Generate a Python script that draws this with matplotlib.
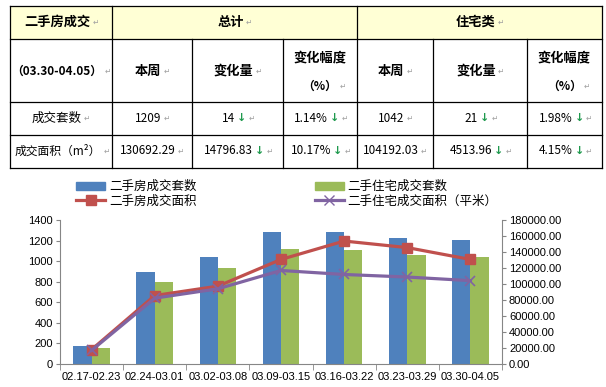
import matplotlib
matplotlib.use("Agg")
import matplotlib.pyplot as plt
from matplotlib.patches import Rectangle, Patch
from matplotlib.lines import Line2D
import numpy as np

plt.rcParams['font.family'] = ['Noto Sans CJK SC', 'DejaVu Sans']

# chart data
weeks = ['02.17-02.23', '02.24-03.01', '03.02-03.08', '03.09-03.15',
         '03.16-03.22', '03.23-03.29', '03.30-04.05']
total_units = [179, 890, 1036, 1280, 1280, 1223, 1209]
res_units = [159, 802, 929, 1114, 1104, 1063, 1042]
total_area = [18000, 85600, 97300, 130700, 153700, 145489.12, 130692.29]
res_area = [17000, 82300, 94000, 116900, 111900, 108705.99, 104192.03]

series_names = ['二手房成交套数', '二手房成交面积', '二手住宅成交套数', '二手住宅成交面积（平米）']

# table data
row_labels = ['成交套数', '成交面积（m²）']
this_week = [['1209', '1042'], ['130692.29', '104192.03']]
change = [['14', '21'], ['14796.83', '4513.96']]
change_pct = [['1.14%', '1.98%'], ['10.17%', '4.15%']]

BLUE = '#4F81BD'
RED = '#C0504D'
GREEN = '#9BBB59'
PURPLE = '#8064A2'
AXIS = '#868686'
MARK = '#a0a0a0'
ARROW = '#1f9a4e'

W, H = 606, 387
fig = plt.figure(figsize=(W / 100, H / 100), dpi=100)

# ---------- table ----------
tab = fig.add_axes([0, 0, 1, 1])
tab.set_xlim(0, W)
tab.set_ylim(H, 0)
tab.axis('off')

cols = [10, 112, 192, 283, 357, 433, 527, 602]
rows = [6, 39, 102, 135, 168]

tab.add_patch(Rectangle((cols[0], rows[0]), cols[-1] - cols[0], rows[1] - rows[0],
                        facecolor='#FFFFD5', edgecolor='none'))
for y in rows:
    tab.plot([cols[0], cols[-1]], [y, y], color='black', lw=0.9)
for x in [cols[0], cols[1], cols[4], cols[7]]:
    tab.plot([x, x], [rows[0], rows[-1]], color='black', lw=0.9)
for x in [cols[2], cols[3], cols[5], cols[6]]:
    tab.plot([x, x], [rows[1], rows[-1]], color='black', lw=0.9)


def cell(x, y, s, bold=False, arrow=False, mark=True, size=9):
    shift = (5 if arrow else 0) + (4 if mark else 0)
    t = tab.text(x - shift, y, s, ha='center', va='center', fontsize=size,
                 fontweight='bold' if bold else 'normal', color='black')
    last = t
    if arrow:
        last = tab.annotate('↓', xy=(1, 0.5), xycoords=last, xytext=(1.5, 0),
                            textcoords='offset points', ha='left', va='center',
                            fontsize=8, fontweight='bold', color=ARROW,
                            family=['DejaVu Sans'])
    if mark:
        tab.annotate('↵', xy=(1, 0.5), xycoords=last, xytext=(1.5, 0),
                     textcoords='offset points', ha='left', va='center',
                     fontsize=5.5, color=MARK, family=['DejaVu Sans'])
    return t


def mid(a, b):
    return (cols[a] + cols[b]) / 2


cell(mid(0, 1), 22, '二手房成交', bold=True, size=9.5)
cell(mid(1, 4), 22, '总计', bold=True, size=9.5)
cell(mid(4, 7), 22, '住宅类', bold=True, size=9.5)
cell(mid(0, 1), 71, '（03.30-04.05）', bold=True, size=8.5)
for g in (0, 3):
    cell(mid(1 + g, 2 + g), 71, '本周', bold=True, size=9.5)
    cell(mid(2 + g, 3 + g), 71, '变化量', bold=True, size=9.5)
    cell(mid(3 + g, 4 + g), 57, '变化幅度', bold=True, size=9.5, mark=False)
    cell(mid(3 + g, 4 + g) + 4, 86, '（%）', bold=True, size=8.5)

for r, ycen in enumerate([118, 151]):
    cell(mid(0, 1) + r, ycen, row_labels[r], size=9 - 0.5 * r)
    for g, k in ((0, 0), (3, 1)):
        cell(mid(1 + g, 2 + g), ycen, this_week[r][k], size=8.5)
        cell(mid(2 + g, 3 + g), ycen, change[r][k], arrow=True, size=8.5)
        cell(mid(3 + g, 4 + g), ycen, change_pct[r][k], arrow=True, size=8.5)

# ---------- chart ----------
left, right, top, bottom = 60, 502, 220, 364
ax = fig.add_axes([left / W, (H - bottom) / H, (right - left) / W, (bottom - top) / H])
x = np.arange(len(weeks))
bw = 0.29
ax.bar(x - bw / 2, total_units, bw, color=BLUE, zorder=2)
ax.bar(x + bw / 2, res_units, bw, color=GREEN, zorder=2)
ax.set_xlim(-0.5, len(weeks) - 0.5)
ax.set_ylim(0, 1400)
ax.set_yticks(range(0, 1401, 200))
ax.set_xticks(x)
ax.set_xticklabels(weeks)
ax.set_xticks(np.arange(-0.5, len(weeks)), minor=True)
ax.tick_params(axis='x', which='major', length=0, pad=6)
ax.tick_params(axis='x', which='minor', length=4, color=AXIS)
ax.tick_params(axis='y', length=3, color=AXIS, pad=2)
for s in ['top', 'right']:
    ax.spines[s].set_visible(False)
for s in ['left', 'bottom']:
    ax.spines[s].set_color(AXIS)

ax2 = ax.twinx()
ax2.plot(x, total_area, color=RED, lw=2.3, marker='s', markersize=7, zorder=3)
ax2.plot(x, res_area, color=PURPLE, lw=2.3, marker='x', markersize=7,
         markeredgewidth=1.2, zorder=3)
ax2.set_ylim(0, 180000)
ax2.set_yticks(range(0, 180001, 20000))
ax2.set_yticklabels([f'{v:.2f}' for v in range(0, 180001, 20000)])
ax2.tick_params(axis='y', length=3, color=AXIS, pad=2)
for s in ['top', 'left', 'bottom']:
    ax2.spines[s].set_visible(False)
ax2.spines['right'].set_color(AXIS)

for a in (ax, ax2):
    for lab in a.get_xticklabels() + a.get_yticklabels():
        lab.set_family(['Liberation Sans'])
        lab.set_fontsize(8)

handles = [Patch(color=BLUE), Line2D([], [], color=RED, lw=2.3, marker='s', markersize=7),
           Patch(color=GREEN), Line2D([], [], color=PURPLE, lw=2.3, marker='x', markersize=7)]
labels = [series_names[0], series_names[1], series_names[2], series_names[3]]
fig.legend(handles, labels, ncol=2, loc='upper left', bbox_to_anchor=(70 / W, 1 - 174 / H),
           frameon=False, fontsize=9, handlelength=2.3, handleheight=0.6,
           columnspacing=9.5, labelspacing=0.1, handletextpad=0.3, borderpad=0)

fig.savefig('out.png', dpi=100)
